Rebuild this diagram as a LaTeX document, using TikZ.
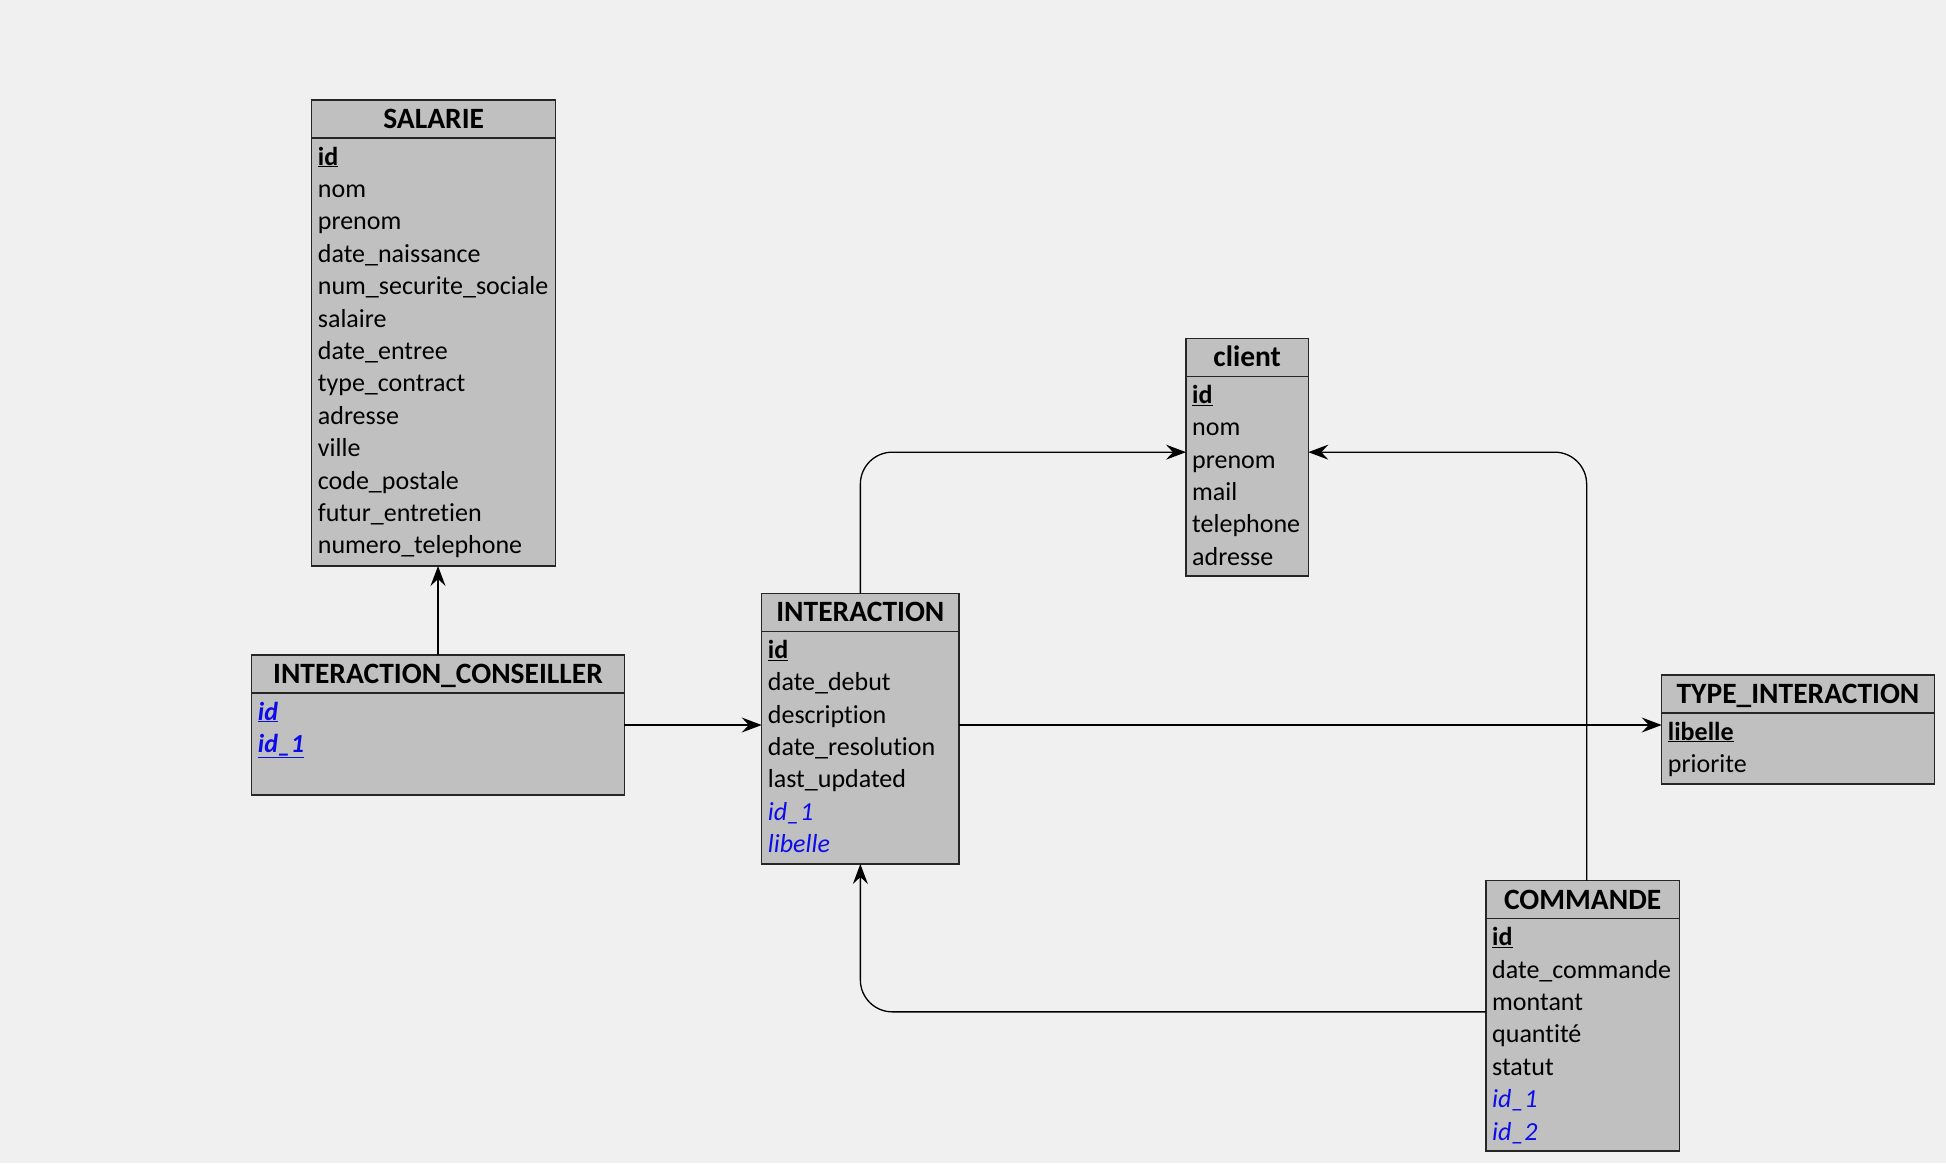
\documentclass[tikz,border=0pt]{standalone}
\usepackage{fontspec}
\setmainfont{Carlito}[Ligatures={NoCommon,NoContextual}]
\usetikzlibrary{arrows.meta,calc}

\definecolor{bgcol}{HTML}{F0F0F0}
\definecolor{boxfill}{HTML}{C0C0C0}
\definecolor{fkblue}{RGB}{12,12,235}

% field markers: primary key, foreign key, key that is both
\newcommand\keyfield[1]{\textbf{\underline{#1}}}
\newcommand\fkfield[1]{\textcolor{fkblue}{\textit{#1}}}
\newcommand\pkfkfield[1]{\textcolor{fkblue}{\textbf{\textit{\underline{#1}}}}}

\tikzset{
  entity/.style={draw=black!85, line width=1.3pt, fill=boxfill, anchor=north west,
                 inner sep=0pt, outer sep=0pt},
  entitytitle/.style={font=\fontsize{29.5}{32}\selectfont\bfseries, anchor=base, inner sep=0pt},
  field/.style={font=\fontsize{26}{30}\selectfont, anchor=base west, inner sep=0pt},
  sepline/.style={draw=black!85, line width=1.3pt},
  link/.style={line width=1.3pt, draw=black,
               -{Stealth[length=20pt,width=15pt,inset=7pt]}},
}

% name, left, top, width, height, title, fields
\newcommand\drawentity[7]{%
  \node[entity, minimum width=#4pt, minimum height=#5pt] (#1) at (#2,#3) {};
  \node[entitytitle] (#1-title) at ($(#1.north)+(0,28.5)$) {#6};
  \draw[sepline] ($(#1.north west)+(0,38)$) -- ($(#1.north east)+(0,38)$);
  \foreach \f [count=\i] in {#7}
    \node[field] (#1-\i) at ($(#1.north west)+(6,65+32.4*\i-32.4)$) {\f};
}

\begin{document}
\begin{tikzpicture}[x=1pt,y=-1pt]
  \fill[bgcol] (0,0) rectangle (1946,1163);
  \useasboundingbox (0,0) rectangle (1946,1163);

  \drawentity{salarie}{311.7}{100}{244}{466}{SALARIE}%
    {\keyfield{id},nom,prenom,date\_naissance,num\_securite\_sociale,salaire,
     date\_entree,type\_contract,adresse,ville,code\_postale,futur\_entretien,
     numero\_telephone}

  \drawentity{ic}{251.7}{655}{372.6}{140}{INTERACTION\_CONSEILLER}%
    {\pkfkfield{id},\pkfkfield{id\_1}}

  \drawentity{inter}{761.7}{593.3}{197.3}{270.7}{INTERACTION}%
    {\keyfield{id},date\_debut,description,date\_resolution,last\_updated,
     \fkfield{id\_1},\fkfield{libelle}}

  \drawentity{client}{1186}{338.3}{122.3}{237.7}{client}%
    {\keyfield{id},nom,prenom,mail,telephone,adresse}

  \drawentity{type}{1661.7}{675}{272.6}{109}{TYPE\_INTERACTION}%
    {\keyfield{libelle},priorite}

  \drawentity{cmd}{1486}{880.7}{193.3}{270.3}{COMMANDE}%
    {\keyfield{id},date\_commande,montant,quantité,statut,
     \fkfield{id\_1},\fkfield{id\_2}}

  % relations
  \draw[link] (ic.north) -- (ic.north |- salarie.south);
  \draw[link] (ic.east) -- (ic.east -| inter.west);
  \draw[link] (inter.east |- ic.east) -- (type.west |- ic.east);
  \draw[link, rounded corners=32pt] (inter.north) |- ($(client.west)+(0,-5)$);
  \draw[link, rounded corners=32pt] ($(cmd.north)+(4,0)$) |- ($(client.east)+(0,-5)$);
  \draw[link, rounded corners=32pt] ($(cmd.west)+(0,-4)$) -| (inter.south);
\end{tikzpicture}
\end{document}
